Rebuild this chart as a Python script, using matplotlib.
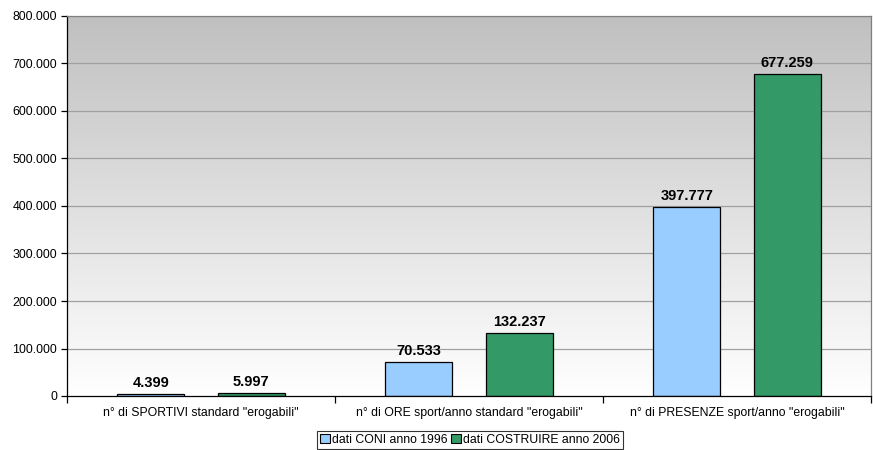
import numpy as np
import matplotlib
matplotlib.use("Agg")
import matplotlib.pyplot as plt
from matplotlib.colors import LinearSegmentedColormap
from matplotlib.patches import Patch
from matplotlib.ticker import FuncFormatter

plt.rcParams['font.family'] = ['Liberation Sans', 'DejaVu Sans']

categories = ['n° di SPORTIVI standard "erogabili"',
              'n° di ORE sport/anno standard "erogabili"',
              'n° di PRESENZE sport/anno "erogabili"']
series_names = ['dati CONI anno 1996', 'dati COSTRUIRE anno 2006']
coni_1996 = [4399, 70533, 397777]
costruire_2006 = [5997, 132237, 677259]
colors = ['#99CCFF', '#339966']


def fmt_it(v, pos=None):
    return f"{int(round(v)):,}".replace(",", ".")


fig = plt.figure(figsize=(8.73, 4.5), dpi=100)
ax = fig.add_axes([67 / 873, 1 - 396 / 450, (871 - 67) / 873, (396 - 16) / 450])

x = np.arange(len(categories))
width = 0.25
offset = 0.1875
ymax = 800000

# gradient background
grad = LinearSegmentedColormap.from_list('bg', ['#ffffff', '#c0c0c0'])
ax.imshow(np.linspace(0, 1, 256).reshape(-1, 1), cmap=grad, aspect='auto',
          extent=[-0.5, len(categories) - 0.5, 0, ymax], origin='lower', zorder=0)

for yv in np.arange(100000, ymax + 1, 100000):
    ax.axhline(yv, color='#a0a0a0', lw=0.9, zorder=1)

for vals, off, col in [(coni_1996, -offset, colors[0]), (costruire_2006, offset, colors[1])]:
    bars = ax.bar(x + off, vals, width, color=col, edgecolor='black', lw=0.9, zorder=2)
    for b, v in zip(bars, vals):
        ax.text(b.get_x() + b.get_width() / 2, v + 9000, fmt_it(v),
                ha='center', va='bottom', fontsize=10.5, fontweight='bold', zorder=3)

ax.set_xlim(-0.5, len(categories) - 0.5)
ax.set_ylim(0, ymax)
ax.set_yticks(np.arange(0, ymax + 1, 100000))
ax.yaxis.set_major_formatter(FuncFormatter(fmt_it))
ax.set_xticks(x)
ax.set_xticklabels(categories)
ax.set_xticks(np.arange(-0.5, len(categories), 1), minor=True)
ax.tick_params(axis='x', which='major', length=0, pad=8, labelsize=8.8)
ax.tick_params(axis='x', which='minor', length=5, direction='out', width=0.9)
ax.tick_params(axis='y', length=4, width=0.9, labelsize=8.9, pad=3)

for s in ['left', 'bottom']:
    ax.spines[s].set_color('black')
    ax.spines[s].set_linewidth(0.9)
for s in ['top', 'right']:
    ax.spines[s].set_color('#808080')
    ax.spines[s].set_linewidth(0.9)

handles = [Patch(facecolor=c, edgecolor='black', lw=0.8) for c in colors]
leg = fig.legend(handles, series_names, loc='center', bbox_to_anchor=(470 / 873, 1 - 440 / 450),
                 ncol=2, fontsize=8.8, frameon=True, fancybox=False, handlelength=0.8,
                 handleheight=0.8, handletextpad=0.2, columnspacing=0.3, borderpad=0.25,
                 borderaxespad=0)
leg.get_frame().set_edgecolor('black')
leg.get_frame().set_linewidth(0.8)

fig.savefig('out.png', dpi=100)
